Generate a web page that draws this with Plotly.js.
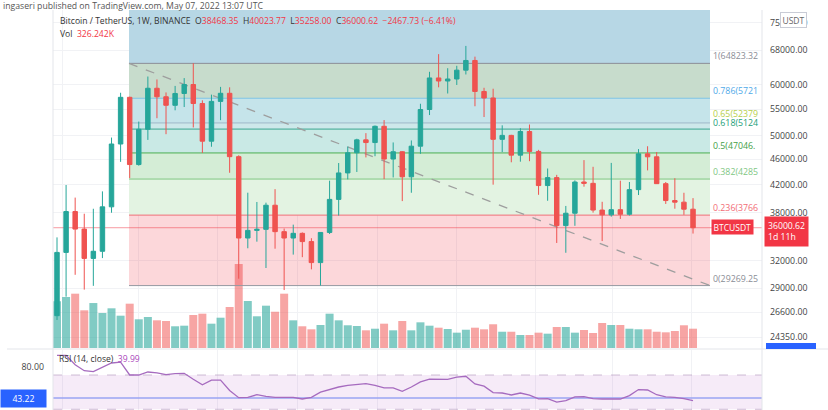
<!DOCTYPE html>
<html><head><meta charset="utf-8">
<script src="https://cdn.plot.ly/plotly-3.0.1.min.js"></script>
<style>html,body{margin:0;padding:0;background:#fff;}#chart{width:828px;height:410px;}</style>
</head><body><div id="chart"></div>
<script>
// ---------- DATA ----------
const weeks = ['2020-12-28',
 '2021-01-04','2021-01-11','2021-01-18','2021-01-25','2021-02-01','2021-02-08','2021-02-15','2021-02-22',
 '2021-03-01','2021-03-08','2021-03-15','2021-03-22','2021-03-29','2021-04-05','2021-04-12','2021-04-19','2021-04-26',
 '2021-05-03','2021-05-10','2021-05-17','2021-05-24','2021-05-31','2021-06-07','2021-06-14','2021-06-21','2021-06-28',
 '2021-07-05','2021-07-12','2021-07-19','2021-07-26','2021-08-02','2021-08-09','2021-08-16','2021-08-23','2021-08-30',
 '2021-09-06','2021-09-13','2021-09-20','2021-09-27','2021-10-04','2021-10-11','2021-10-18','2021-10-25',
 '2021-11-01','2021-11-08','2021-11-15','2021-11-22','2021-11-29','2021-12-06','2021-12-13','2021-12-20','2021-12-27',
 '2022-01-03','2022-01-10','2022-01-17','2022-01-24','2022-01-31','2022-02-07','2022-02-14','2022-02-21','2022-02-28',
 '2022-03-07','2022-03-14','2022-03-21','2022-03-28','2022-04-04','2022-04-11','2022-04-18','2022-04-25','2022-05-02'];
const open = [26281,32958,38150,35828,32259,33092,38795,48577,57408,45135,51206,59302,57523,55791,58202,60100,56150,49066,
 56578,58241,46426,34700,35660,35796,39020,35500,34700,35287,34259,31778,35399,39845,43800,47081,49300,48829,51756,46030,
 47250,43200,48200,54960,61530,60860,61300,63270,65500,58622,57274,49396,50098,46681,50801,47300,41864,43071,36277,37920,
 42400,42200,38350,37700,38400,37780,41260,46900,46400,42150,39680,39450,38468.35];
const high = [34778,41950,40100,37850,38531,41000,49707,58352,57537,52640,61844,61200,58420,59800,61500,64854,56800,57963,
 59592,59500,46650,40810,39476,39380,41330,35900,36400,35400,34678,35400,42599,45380,48144,49500,50500,51900,52920,48850,
 47350,49200,56100,62900,67000,63710,64270,69000,66400,59400,59200,51936,50200,51400,52088,47570,44500,43500,38919,42650,
 45855,44770,39500,45400,42600,42400,47700,48189,47200,42400,42976,40800,40023.77];
const low = [25880,28130,30420,28850,29241,32296,37988,45570,43000,44950,49291,53271,50313,54800,55450,51541,47044,48100,
 52900,43825,30000,33450,34250,31170,33400,28805,32700,32400,31020,29278,35200,37600,42800,43950,46300,46500,42843,43100,
 39600,40800,46900,53880,59500,58200,60000,62300,55600,53500,42000,47200,45500,45600,45678,40500,39650,34090,32917,36250,
 41700,38000,34322,37450,37150,37600,40470,44200,42100,39200,38536,37700,35258.00];
const close = [32958,38150,35828,32259,33092,38795,48577,57408,45135,51206,59302,57523,55791,58202,60100,56150,49066,56578,
 58241,46426,34700,35660,35796,39020,35500,34700,35287,34259,31778,35399,39845,43800,47081,49300,48829,51756,46030,47250,
 43200,48200,54960,61530,60860,61300,63270,65500,58622,57274,49396,50098,46681,50801,47300,41864,43071,36277,37920,42400,
 42200,38350,37700,38400,37780,41260,46900,46400,42150,39680,39450,38468.35,36000.62];
const volume = [790000,862000,918000,637000,760000,592000,671000,546000,749000,485000,
 524000,468000,456000,367000,377000,558000,580000,411000,512000,693000,
 1420000,794000,536000,715000,613000,918000,468000,367000,316000,389000,
 580000,468000,384000,372000,299000,326000,411000,299000,456000,299000,
 434000,377000,343000,321000,259000,309000,343000,316000,401000,275000,
 275000,220000,220000,259000,242000,355000,355000,259000,304000,254000,
 423000,389000,389000,326000,316000,316000,275000,265000,287000,384000,326242];
const rsi = [93,93,82,75,74,79,84,85,70,70,73.5,72.5,70.5,71.5,72,65,58.5,64,64,52,
 43.5,44,47,45,44,44,44,42,44,50,53,56,58,59,60,58,55,55,51,56,
 62,65.3,65,65,67.5,68.5,59.5,57,49.5,49,46.7,49,46.5,42.2,42.5,38.3,40,44.5,44.7,42.5,
 42,42,42,46,53,52.5,47,44.5,44,42.5,39.99];
const fibRatios = [0, 0.236, 0.382, 0.5, 0.618, 0.65, 0.786, 1, 1.618];
const fibLowPrice = 29269.25, fibHighPrice = 64823.32;
const priceTicks = [24350, 26600, 29000, 32000, 38000, 42000, 46000, 50000, 55000, 60000, 68000, 75000];
const rsiTicks = [80];
const gridMonths = ['2021-01-01','2021-03-01','2021-05-01','2021-07-01','2021-09-01','2021-11-01','2022-01-01','2022-03-01','2022-05-01'];
const lastClose = 36000.62, userLevel = 43.22, rsiLast = 39.99, volLast = '326.242K';

// ---------- LAYOUT HELPERS ----------
const W = 828, H = 410;
const plotL = 53, plotR = 762, paneTop = 10, paneBot = 348, rsiTop = 350;
const firstX = 57, pxPerWeek = 9.086;
const DAY = 86400000, t0 = Date.parse(weeks[0] + 'T00:00:00Z');
const msPerPx = 7 * DAY / pxPerWeek;
const toDate = ms => new Date(ms).toISOString().replace('T', ' ').replace('Z', '');
const xLo = toDate(t0 + (plotL - firstX) * msPerPx), xHi = toDate(t0 + (plotR - firstX) * msPerPx);
const fibStart = toDate(t0 + (129 - firstX) * msPerPx), fibEnd = toDate(t0 + (710 - firstX) * msPerPx);
const logAt68 = Math.log10(68000), pxPerDecade = 643.5, y68 = 50;
const topLog = logAt68 + (y68 - paneTop) / pxPerDecade, botLog = logAt68 - (paneBot - y68) / pxPerDecade;
const volMax = (paneBot - paneTop) * 16900;
const rsiPxPerUnit = 0.857, y70 = 375;
const rsiHi = 70 + (y70 - rsiTop) / rsiPxPerUnit, rsiLo = 70 - (H - y70) / rsiPxPerUnit;
const px = x => x / W, py = y => 1 - y / H;

const UP = '#26a69a', DN = '#ef5350';
const fibPrice = r => fibLowPrice + r * (fibHighPrice - fibLowPrice);
const bandColors = ['rgba(242,54,69,0.2)', '#e3f3e2', '#d4edd6', '#c9e9e5', '#cde8ea', '#c5e4ea', '#c7dccc', '#b7d7e5'];
const lineColors = {0:'#9598a1', 0.236:'#f26b75', 0.382:'#81c784', 0.5:'#4caf50', 0.618:'#3aa58f', 0.65:'#9fb8c8', 0.786:'#7cc4e6', 1:'#8a8d96'};
const labelColors = {0:'#8a8d96', 0.236:'#f26b75', 0.382:'#81c784', 0.5:'#43a047', 0.618:'#1b9e77', 0.65:'#b5cf4a', 0.786:'#4fa9e8', 1:'#8a8d96'};
const labelShift = {0.65:2, 0.618:-1};

// the fib labels are cut at the pane edge: keep what fits in the space before the price scale
const FIB_FS = 8.8, FIB_ROOM = 47;
const charEm = ch => (ch === '.' ? 0.27 : (ch === '(' || ch === ')') ? 0.3 : 0.572);
function fitLabel(s) {
  let w = 0, out = '';
  for (const ch of s) { w += charEm(ch) * FIB_FS; if (w > FIB_ROOM) break; out += ch; }
  return out;
}

const traces = [];
traces.push({type:'bar', x: weeks, y: volume, xaxis:'x', yaxis:'y', width: 0.88 * 7 * DAY,
  marker:{color: close.map((c, i) => c >= open[i] ? 'rgba(38,166,154,0.58)' : 'rgba(239,83,80,0.52)'), line:{width:0}},
  hoverinfo:'skip'});
for (let k = 0; k < fibRatios.length - 1; k++) {
  const p0 = fibPrice(fibRatios[k]), p1 = fibPrice(fibRatios[k + 1]);
  traces.push({type:'scatter', mode:'lines', xaxis:'x', yaxis:'y2', x:[fibStart, fibEnd, fibEnd, fibStart, fibStart],
    y:[p0, p0, p1, p1, p0], fill:'toself', fillcolor: bandColors[k], line:{width:0}, hoverinfo:'skip'});
}
fibRatios.filter(r => r <= 1).forEach(r => {
  const p = fibPrice(r);
  traces.push({type:'scatter', mode:'lines', xaxis:'x', yaxis:'y2', x:[fibStart, fibEnd], y:[p, p],
    line:{color: lineColors[r], width:1}, hoverinfo:'skip'});
});
traces.push({type:'scatter', mode:'lines', xaxis:'x', yaxis:'y2', x:[fibStart, fibEnd], y:[fibHighPrice, fibLowPrice],
  line:{color:'#9e9e9e', width:1.3, dash:'dash'}, hoverinfo:'skip'});
traces.push({type:'scatter', mode:'lines', xaxis:'x', yaxis:'y2', x:[xLo, xHi], y:[lastClose, lastClose],
  line:{color:'rgba(242,54,69,0.5)', width:1}, hoverinfo:'skip'});
traces.push({type:'candlestick', x: weeks, open, high, low, close, xaxis:'x', yaxis:'y4',
  increasing:{line:{color:UP, width:1}, fillcolor:UP}, decreasing:{line:{color:DN, width:1}, fillcolor:DN},
  hoverinfo:'skip'});
traces.push({type:'scatter', mode:'lines', xaxis:'x2', yaxis:'y3', x:[xLo, xHi, xHi, xLo, xLo], y:[70, 70, 30, 30, 70],
  fill:'toself', fillcolor:'rgba(186,104,200,0.13)', line:{width:0}, hoverinfo:'skip'});
[70, 30].forEach(v => traces.push({type:'scatter', mode:'lines', xaxis:'x2', yaxis:'y3', x:[xLo, xHi], y:[v, v],
  line:{color:'rgba(170,140,180,0.55)', width:1, dash:'dash'}, hoverinfo:'skip'}));
traces.push({type:'scatter', mode:'lines', xaxis:'x2', yaxis:'y3', x:[xLo, xHi], y:[userLevel, userLevel],
  line:{color:'#9aa5f3', width:1.5}, hoverinfo:'skip'});
traces.push({type:'scatter', mode:'lines', xaxis:'x2', yaxis:'y3', x: weeks, y: rsi,
  line:{color:'#a66bbf', width:1.3}, hoverinfo:'skip'});

const FONT = 'Open Sans, Arial, sans-serif';
const red = '#f23645';
const sp = '\u00a0';
const headerText = 'Bitcoin / TetherUS, 1W, BINANCE' + sp + sp +
  'O<span style="color:' + red + '">' + open[open.length - 1].toFixed(2) + '</span>' + sp + sp +
  'H<span style="color:' + red + '">' + high[high.length - 1].toFixed(2) + '</span>' + sp + sp +
  'L<span style="color:' + red + '">' + low[low.length - 1].toFixed(2) + '</span>' + sp + sp +
  'C<span style="color:' + red + '">' + close[close.length - 1].toFixed(2) + '</span>' + sp + sp +
  '<span style="color:' + red + '">\u22122467.73 (\u22126.41%)</span>';

const annotations = [
  {xref:'paper', yref:'paper', x:px(1), y:py(5.5), xanchor:'left', yanchor:'middle', showarrow:false,
   text:'ingaseri published on TradingView.com, May 07, 2022 13:07 UTC', font:{family:FONT, size:8.7, color:'#555'}},
  {xref:'paper', yref:'paper', x:px(58), y:py(21), xanchor:'left', yanchor:'middle', showarrow:false,
   text: headerText, font:{family:FONT, size:8.6, color:'#333'}},
  {xref:'paper', yref:'paper', x:px(58), y:py(34), xanchor:'left', yanchor:'middle', showarrow:false,
   text:'Vol' + sp + sp + '<span style="color:' + red + '">' + volLast + '</span>', font:{family:FONT, size:8.6, color:'#333'}},
  {xref:'paper', yref:'paper', x:px(793), y:py(19.5), xanchor:'center', yanchor:'middle', showarrow:false,
   text:'USDT', bgcolor:'#ffffff', bordercolor:'#c9ccd6', borderwidth:1, borderpad:1.5, font:{family:FONT, size:8.5, color:'#666'}},
  {xref:'paper', yref:'paper', x:px(711), y:py(227), xanchor:'left', yanchor:'middle', showarrow:false,
   text:'BTCUSDT', bgcolor:red, borderpad:1.5, font:{family:FONT, size:8.5, color:'#fff'}},
  {xref:'paper', yref:'paper', x:px(764), y:py(232), xanchor:'left', yanchor:'middle', showarrow:false, align:'left',
   text: lastClose.toFixed(2) + '<br>1d 11h', bgcolor:red, borderpad:3, font:{family:FONT, size:8.7, color:'#fff'}},
  {xref:'paper', yref:'paper', x:px(0), y:py(398.5), xanchor:'left', yanchor:'middle', showarrow:false,
   text: userLevel.toFixed(2), bgcolor:'#2962ff', borderpad:2.5, width:40, align:'center', font:{family:FONT, size:8.7, color:'#fff'}},
  {xref:'paper', yref:'paper', x:px(57), y:py(359), xanchor:'left', yanchor:'middle', showarrow:false,
   text:'RSI (14, close)' + sp + sp + '<span style="color:#ab47bc">' + rsiLast.toFixed(2) + '</span>', font:{family:FONT, size:8.6, color:'#333'}}
];
fibRatios.filter(r => r <= 1).forEach(r => {
  const p = fibPrice(r);
  annotations.push({xref:'paper', yref:'y2', x:px(712), y:Math.log10(p), xanchor:'left', yanchor:'bottom', showarrow:false,
    yshift: labelShift[r] || 0, text: fitLabel(r + '(' + p.toFixed(2) + ')'), align:'left', borderpad:0,
    font:{family:FONT, size:FIB_FS, color: labelColors[r]}});
});

const gridCol = '#f1f2f5';
const priceAxisCommon = {type:'log', range:[botLog, topLog], fixedrange:true, zeroline:false, showline:false};
const layout = {
  width: W, height: H, margin:{l:0, r:0, t:0, b:0}, paper_bgcolor:'#ffffff', plot_bgcolor:'rgba(0,0,0,0)',
  showlegend:false, font:{family:FONT, size:8.8, color:'#444'}, hovermode:false,
  xaxis:{type:'date', domain:[px(plotL), px(plotR)], range:[xLo, xHi], anchor:'y', showticklabels:false, ticks:'',
    tickmode:'array', tickvals:gridMonths, showgrid:true, gridcolor:gridCol, zeroline:false, showline:false,
    rangeslider:{visible:false}, fixedrange:true},
  xaxis2:{type:'date', domain:[px(plotL), px(plotR)], range:[xLo, xHi], anchor:'y3', matches:'x', showticklabels:false, ticks:'',
    tickmode:'array', tickvals:gridMonths, showgrid:true, gridcolor:gridCol, zeroline:false, showline:false, fixedrange:true},
  yaxis:{domain:[py(paneBot), py(paneTop)], range:[0, volMax], visible:false, fixedrange:true},
  yaxis2:Object.assign({}, priceAxisCommon, {overlaying:'y', side:'right', anchor:'x', tickmode:'array',
    tickvals: priceTicks, ticktext: priceTicks.map(v => v.toFixed(2)), ticks:'', ticklabelstandoff:7,
    showgrid:true, gridcolor:gridCol, tickfont:{family:FONT, size:8.8, color:'#444'}}),
  yaxis4:Object.assign({}, priceAxisCommon, {overlaying:'y', side:'right', anchor:'x', visible:false, showgrid:false}),
  yaxis3:{domain:[0, py(rsiTop)], range:[rsiLo, rsiHi], side:'left', anchor:'x2', tickmode:'array', tickvals: rsiTicks,
    ticktext: rsiTicks.map(v => v.toFixed(2)), ticks:'', ticklabelstandoff:8, showgrid:false, zeroline:false, showline:false,
    tickfont:{family:FONT, size:8.8, color:'#444'}, fixedrange:true},
  shapes:[
    {type:'line', xref:'paper', yref:'paper', x0:px(plotL), x1:px(plotL), y0:py(paneTop), y1:0, line:{color:'#e3e5ea', width:1}},
    {type:'line', xref:'paper', yref:'paper', x0:px(plotR), x1:px(plotR), y0:py(paneTop), y1:0, line:{color:'#e3e5ea', width:1}},
    {type:'line', xref:'paper', yref:'paper', x0:px(7), x1:1, y0:py(349), y1:py(349), line:{color:'#e3e5ea', width:1}},
    {type:'rect', xref:'paper', yref:'paper', x0:px(766), x1:px(816), y0:py(349), y1:py(343), fillcolor:'#2962ff', line:{width:0}}
  ],
  annotations
};
Plotly.newPlot('chart', traces, layout, {staticPlot:true, displayModeBar:false});
</script></body></html>
